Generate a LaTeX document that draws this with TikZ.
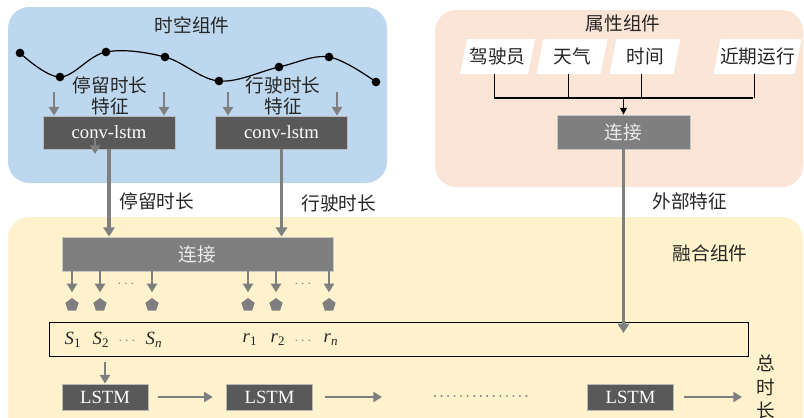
\documentclass[tikz,border=0pt]{standalone}
\usepackage{fontspec}
\setmainfont{Liberation Serif}
\newfontfamily\cjk{Noto Sans CJK SC}
\usetikzlibrary{arrows.meta,shapes.geometric}
\definecolor{bluebg}{HTML}{BDD7EE}
\definecolor{peachbg}{HTML}{FBE5D6}
\definecolor{yellowbg}{HTML}{FFF2CC}
\definecolor{darkbox}{HTML}{595959}
\definecolor{midbox}{HTML}{7F7F7F}
\definecolor{arrowgray}{HTML}{7F7F7F}
\definecolor{txt}{HTML}{262626}
\newcommand\slantbox[4]{%
  \fill[white] (#2-#3-3.5,74) -- (#2+#3-3.5,74) -- (#2+#3+3.5,39) -- (#2-#3+3.5,39) -- cycle;
  \node[cn, minimum height=26pt] (#1) at (#2,56.5) {#4};}
\begin{document}
\begin{tikzpicture}[x=0.75pt,y=-0.75pt,
  cn/.style={font=\cjk\fontsize{14}{16}\selectfont, text=txt, inner sep=1pt},
  panel/.style={rounded corners=16pt},
  darkbox/.style={fill=darkbox, draw=gray!55, line width=0.6pt, text=white, font=\fontsize{14}{16}\selectfont, inner sep=0pt},
  joinbox/.style={fill=midbox, draw=gray!45, line width=0.6pt, text=white!92!black, font=\cjk\fontsize{14}{16}\selectfont, inner sep=0pt},
  garrow/.style={draw=arrowgray, line width=2.4pt, -{Triangle[length=7pt,width=8.5pt]}},
  sarrow/.style={draw=arrowgray, line width=1.9pt, -{Triangle[length=6.5pt,width=7.5pt]}},
  dot/.style={circle, fill=black, inner sep=0pt, minimum size=6.5pt},
  pent/.style={regular polygon, regular polygon sides=5, fill=arrowgray, inner sep=0pt, minimum size=10.5pt},
  lab/.style={font=\fontsize{14}{16}\selectfont, text=txt, inner sep=0pt},
  gdots/.style={text=arrowgray, font=\fontsize{11}{12}\selectfont, inner sep=0pt},
]
\useasboundingbox (0,0) rectangle (804,418);
% panels
\fill[bluebg, panel] (8,7) rectangle (387,183);
\fill[peachbg, panel] (435,10) rectangle (803,187);
\fill[yellowbg, panel] (8,217) rectangle (803,440);
% titles
\node[cn] (t1) at (192,25) {时空组件};
\node[cn] (t2) at (623,23) {属性组件};
\node[cn] (t3) at (710,253) {融合组件};
% trajectory
\coordinate (c1) at (20,53);
\coordinate (c2) at (60,77);
\coordinate (c3) at (106,52);
\coordinate (c4) at (165,57);
\coordinate (c5) at (219,81);
\coordinate (c6) at (279,67);
\coordinate (c7) at (329,57);
\coordinate (c8) at (376,82);
\draw[line width=0.9pt] plot[smooth, tension=0.6] coordinates {(c1) (c2) (c3) (c4) (c5) (c6) (c7) (c8)};
\foreach \i in {1,...,8} \node[dot] (dot\i) at (c\i) {};
% feature labels
\node[cn, align=center] (f1) at (110,96) {停留时长\\特征};
\node[cn, align=center] (f2) at (283,96) {行驶时长\\特征};
% conv-lstm boxes
\node[darkbox, minimum width=99pt, minimum height=24.75pt] (conv1) at (109,132.5) {conv-lstm};
\node[darkbox, minimum width=99pt, minimum height=24.75pt] (conv2) at (281.5,132.5) {conv-lstm};
\coordinate (a1) at (54,92);
\coordinate (a2) at (164,92);
\coordinate (a3) at (228,92);
\coordinate (a4) at (337,92);
\draw[sarrow] (a1) -- (a1 |- conv1.north);
\draw[sarrow] (a2) -- (a2 |- conv1.north);
\draw[sarrow] (a3) -- (a3 |- conv2.north);
\draw[sarrow] (a4) -- (a4 |- conv2.north);
\coordinate (ia) at (95,137);
\coordinate (ib) at (95,154);
\draw[sarrow] (ia) -- (ib);
% attribute component
\slantbox{d1}{497.5}{34}{驾驶员}
\slantbox{d2}{572}{32}{天气}
\slantbox{d3}{645}{32}{时间}
\slantbox{d4}{757.5}{40.5}{近期运行}
\node[joinbox, minimum width=99.75pt, minimum height=25.5pt] (attr) at (623.5,132) {连接};
\coordinate (hl) at (494,98);
\coordinate (hr) at (753,98);
\draw[line width=0.8pt] ([xshift=-2.5pt]d1.south) -- ([xshift=-2.5pt]d1.south |- hl);
\draw[line width=0.8pt] ([xshift=-2.5pt]d2.south) -- ([xshift=-2.5pt]d2.south |- hl);
\draw[line width=0.8pt] ([xshift=-2.5pt]d3.south) -- ([xshift=-2.5pt]d3.south |- hl);
\draw[line width=0.8pt] ([xshift=-2.5pt]d4.south) -- ([xshift=-2.5pt]d4.south |- hl);
\draw[line width=0.8pt] (hl) -- (hr);
\draw[line width=1pt, -{Triangle[length=5pt,width=5pt]}] (attr.north |- hl) -- (attr.north);
% fusion component
\node[joinbox, minimum width=203.25pt, minimum height=25.5pt] (fuse) at (197.5,254) {连接};
\node[draw=black, line width=0.7pt, minimum width=524.25pt, minimum height=25.5pt, inner sep=0pt] (sbox) at (398.5,339) {};
\draw[garrow] (conv1.south) -- (conv1.south |- fuse.north);
\draw[garrow] (conv2.south) -- (conv2.south |- fuse.north);
\node[cn, anchor=west] (l1) at (118,201) {停留时长};
\node[cn, anchor=west] (l2) at (300,203) {行驶时长};
\node[cn, anchor=west] (l3) at (651,201) {外部特征};
\coordinate (ext) at (623.5,333);
\draw[garrow] (attr.south) -- (ext);
% pentagons and arrows
\foreach \i/\x in {1/72,2/100,3/152,4/248,5/276,6/329} {
  \node[pent] (p\i) at (\x,305) {};
  \draw[sarrow] (fuse.south -| p\i) -- ([yshift=4pt]p\i.north);
}
\node[gdots] (dd1) at (126,284) {$\cdots$};
\node[gdots] (dd2) at (303,284) {$\cdots$};
% labels in sbox
\node[lab] (s1) at (73,340) {\textit{S}\textsubscript{1}};
\node[lab] (s2) at (101,340) {\textit{S}\textsubscript{2}};
\node[gdots] (sd) at (127,341) {$\cdots$};
\node[lab] (sn) at (154,340) {\textit{S}\textsubscript{\textit{n}}};
\node[lab] (r1) at (250,340) {\textit{r}\textsubscript{1}};
\node[lab] (r2) at (278,340) {\textit{r}\textsubscript{2}};
\node[gdots] (rd) at (303,341) {$\cdots$};
\node[lab] (rn) at (331,340) {\textit{r}\textsubscript{\textit{n}}};
% LSTM chain
\node[darkbox, minimum width=64.5pt, minimum height=19.5pt] (lstm1) at (105,397) {LSTM};
\node[darkbox, minimum width=64.5pt, minimum height=19.5pt] (lstm2) at (269.5,397) {LSTM};
\node[darkbox, minimum width=64.5pt, minimum height=19.5pt] (lstm3) at (630.5,397) {LSTM};
\draw[sarrow] ([yshift=-4pt]sbox.south -| lstm1.north) -- (lstm1.north);
\draw[sarrow] ([xshift=7pt]lstm1.east) -- ([xshift=-10pt]lstm2.west);
\coordinate (e2) at (382,397);
\draw[sarrow] ([xshift=9pt]lstm2.east) -- (e2);
\coordinate (dl) at (435,396);
\coordinate (dr) at (528,396);
\draw[arrowgray, line width=1.6pt, line cap=round, dash pattern=on 0pt off 4.9pt] (dl) -- (dr);
\coordinate (e3) at (742,397);
\draw[sarrow] ([xshift=7.5pt]lstm3.east) -- (e3);
\node[cn, align=center, font=\cjk\fontsize{14}{17.5}\selectfont] (tot) at (766,387) {总\\时\\长};
\end{tikzpicture}
\end{document}
